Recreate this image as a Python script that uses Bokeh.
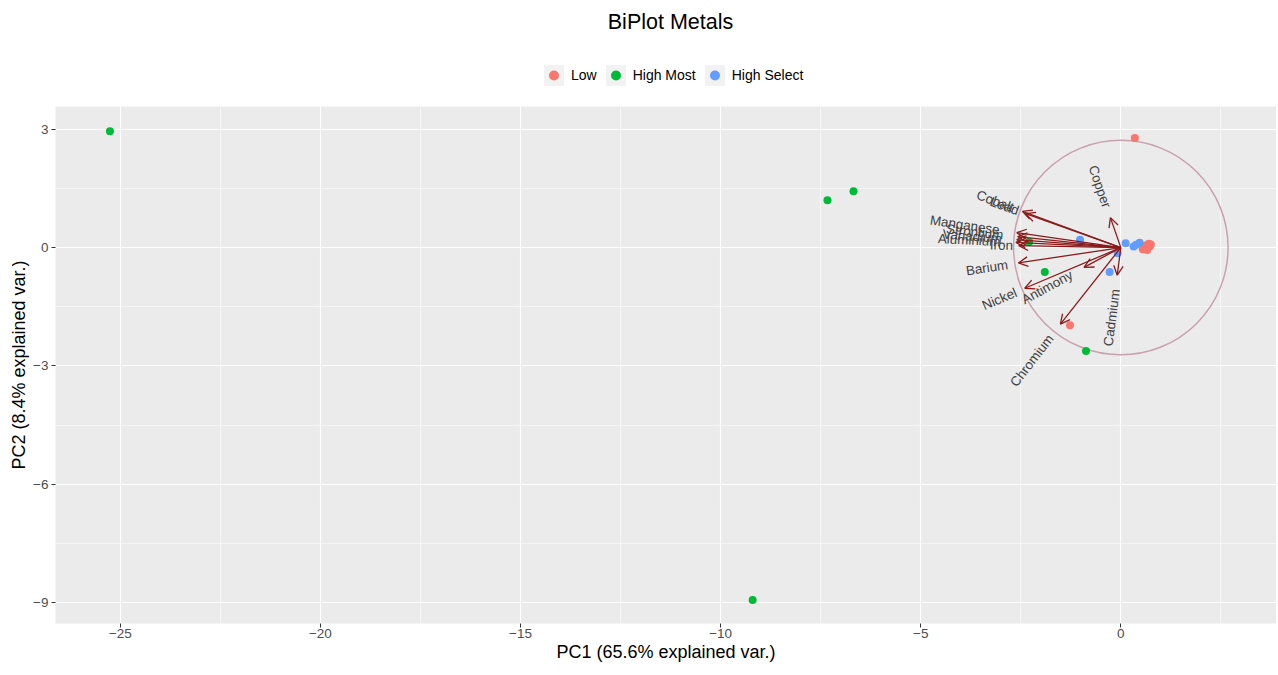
import math
from bokeh.plotting import figure
from bokeh.layouts import column
from bokeh.models import (Range1d, FixedTicker, Legend, LegendItem, Arrow, OpenHead,
                          ColumnDataSource, Label)
from bokeh.core.properties import value
from bokeh.embed import file_html
from bokeh.resources import INLINE

# ---------------- data ----------------
groups = ["Low", "High Most", "High Select"]
group_colors = ["#F8766D", "#00BA38", "#619CFF"]

low_pc1 = [0.35, -1.27, 0.55, 0.60, 0.62, 0.66, 0.70, 0.72, 0.75]
low_pc2 = [2.78, -1.97, -0.04, -0.01, 0.05, -0.06, 0.10, 0.03, 0.08]
most_pc1 = [-25.26, -7.33, -6.68, -9.20, -2.29, -1.90, -0.87]
most_pc2 = [2.95, 1.20, 1.43, -8.93, 0.15, -0.62, -2.62]
select_pc1 = [-1.02, 0.12, 0.32, 0.38, 0.47, -0.08, -0.28]
select_pc2 = [0.20, 0.11, 0.03, 0.07, 0.12, -0.14, -0.62]

var_names = ["Cobalt", "Lead", "Manganese", "Strontium", "Vanadium", "Aluminium", "Iron",
             "Barium", "Nickel", "Antimony", "Chromium", "Cadmium", "Copper"]
var_pc1 = [-2.46, -2.38, -2.60, -2.58, -2.60, -2.62, -2.55, -2.56, -2.40, -0.92, -1.51, -0.09, -0.26]
var_pc2 = [0.92, 0.86, 0.38, 0.28, 0.20, 0.13, 0.05, -0.39, -1.03, -0.50, -1.94, -0.70, 0.76]
circle_radius = 2.68

x_ticks = [-25, -20, -15, -10, -5, 0]
x_minor = [-22.5, -17.5, -12.5, -7.5, -2.5, 2.5]
y_ticks = [3, 0, -3, -6, -9]
y_minor = [1.5, -1.5, -4.5, -7.5]

title_text = "BiPlot Metals"
x_label = "PC1 (65.6% explained var.)"
y_label = "PC2 (8.4% explained var.)"

group_data = [(low_pc1, low_pc2), (most_pc1, most_pc2), (select_pc1, select_pc2)]

# ---------------- layout ----------------
W, H_TOTAL = 1276, 673
HH = 106                              # header (title + legend) height
H = H_TOTAL - HH                      # main figure height
B_LEFT, B_RIGHT, B_TOP, B_BOTTOM = 55, 0, 0, 50
frame_w = W - B_LEFT - B_RIGHT
frame_h = H - B_TOP - B_BOTTOM
x0, x1 = -26.62, 3.89
y0, y1 = -9.525, 3.575
x_scale = frame_w / (x1 - x0)

FONT = "Liberation Sans"
LABEL_PX = 13.4

# ================= header: title + legend =================
hdr = figure(width=W, height=HH, output_backend="svg", toolbar_location=None,
             x_range=Range1d(B_LEFT, W), y_range=Range1d(0, HH),
             x_axis_location=None, y_axis_location=None,
             min_border_left=B_LEFT, min_border_right=0, min_border_top=0,
             min_border_bottom=0, outline_line_color=None,
             background_fill_color="white", border_fill_color="white")
hdr.grid.visible = False
hdr.add_layout(Label(x=670, y=HH - 21, text=title_text, text_align="center",
                     text_baseline="middle", text_font=FONT, text_font_size="21.5px",
                     text_color="black"))

items = []
for name, (xs, ys), col in zip(groups, group_data, group_colors):
    bg = hdr.quad(left=[0], right=[0], top=[0], bottom=[0], fill_color="#F2F2F2",
                  line_color=None, visible=False)
    dot = hdr.scatter(x=xs, y=ys, size=8, fill_color=col, line_color=None, visible=False)
    items.append(LegendItem(label=name, renderers=[bg, dot]))
legend = Legend(items=items, orientation="horizontal",
                location=(541 - B_LEFT, HH - 88),
                glyph_width=25, glyph_height=26, label_standoff=5, spacing=6,
                padding=0, margin=0, border_line_color=None, background_fill_alpha=0,
                label_text_font=FONT, label_text_font_size="14px", label_text_color="black")
hdr.add_layout(legend, "center")

# ================= main biplot =================
p = figure(width=W, height=H, output_backend="svg", toolbar_location=None,
           x_range=Range1d(x0, x1), y_range=Range1d(y0, y1),
           min_border_left=B_LEFT, min_border_right=B_RIGHT,
           min_border_top=B_TOP, min_border_bottom=B_BOTTOM,
           background_fill_color="#EBEBEB", border_fill_color="white",
           outline_line_color=None)

xt = FixedTicker(ticks=x_ticks, minor_ticks=x_minor)
yt = FixedTicker(ticks=y_ticks, minor_ticks=y_minor)
p.xaxis.ticker = xt
p.yaxis.ticker = yt
p.xgrid.ticker = xt
p.ygrid.ticker = yt
for g in (p.xgrid, p.ygrid):
    g.grid_line_color = "white"
    g.grid_line_width = 1.1
    g.minor_grid_line_color = "white"
    g.minor_grid_line_width = 0.55

for ax, lab in ((p.xaxis, x_label), (p.yaxis, y_label)):
    ax.axis_label = lab
    ax.axis_label_text_font = FONT
    ax.axis_label_text_font_size = "18px"
    ax.axis_label_text_font_style = "normal"
    ax.axis_label_text_color = "black"
    ax.axis_line_color = None
    ax.major_tick_line_color = "#333333"
    ax.major_tick_out = 4
    ax.major_tick_in = 0
    ax.minor_tick_line_color = None
    ax.major_label_text_font = FONT
    ax.major_label_text_font_size = "13.5px"
    ax.major_label_text_color = "#4D4D4D"
    ax.major_label_standoff = 1
    ax.axis_label_standoff = 1
p.yaxis.major_label_orientation = "horizontal"
p.yaxis.major_label_standoff = 3

# circle
p.circle(x=[0], y=[0], radius=circle_radius, fill_color=None,
         line_color="#C9A0AC", line_width=1.5)

# arrows
arrow_color = "#8B1A1A"
asrc = ColumnDataSource(dict(x0=[0.0] * len(var_pc1), y0=[0.0] * len(var_pc1),
                             x1=var_pc1, y1=var_pc2))
p.add_layout(Arrow(end=OpenHead(size=9.5, line_color=arrow_color, line_width=1.3),
                   x_start="x0", y_start="y0", x_end="x1", y_end="y1",
                   source=asrc, line_color=arrow_color, line_width=1.3))

# points
for (xs, ys), col in zip(group_data, group_colors):
    p.scatter(x=xs, y=ys, size=8, fill_color=col, line_color=None)

# variable labels (ggbiplot style: rotated, pushed past the arrow tip)
AW = {'A': .667, 'B': .667, 'C': .722, 'I': .278, 'L': .556, 'M': .833, 'N': .722, 'S': .667,
      'V': .667, 'a': .556, 'b': .556, 'c': .5, 'd': .556, 'e': .556, 'g': .556, 'h': .556,
      'i': .222, 'l': .222, 'm': .833, 'n': .556, 'o': .556, 'p': .556, 'r': .333, 's': .5,
      't': .278, 'u': .556, 'y': .5}
lx, ly, la, lal = [], [], [], []
for nm, vx, vy in zip(var_names, var_pc1, var_pc2):
    w_px = sum(AW.get(c, .556) for c in nm) * LABEL_PX
    d = math.hypot(vx, vy)
    ux, uy = vx / d, vy / d
    off = 0.25 * w_px / x_scale
    lx.append(vx + ux * off)
    ly.append(vy + uy * off)
    la.append(math.atan(vy / vx))
    lal.append("right" if vx < 0 else "left")
lsrc = ColumnDataSource(dict(x=lx, y=ly, text=var_names, angle=la, align=lal))
p.text(x="x", y="y", text="text", angle="angle", text_align="align", source=lsrc,
       text_baseline="middle", text_font=value(FONT), text_font_size=value(f"{LABEL_PX}px"),
       text_color="#404040")

layout = column(hdr, p, spacing=0)
open("out.html", "w").write(file_html(layout, INLINE))
